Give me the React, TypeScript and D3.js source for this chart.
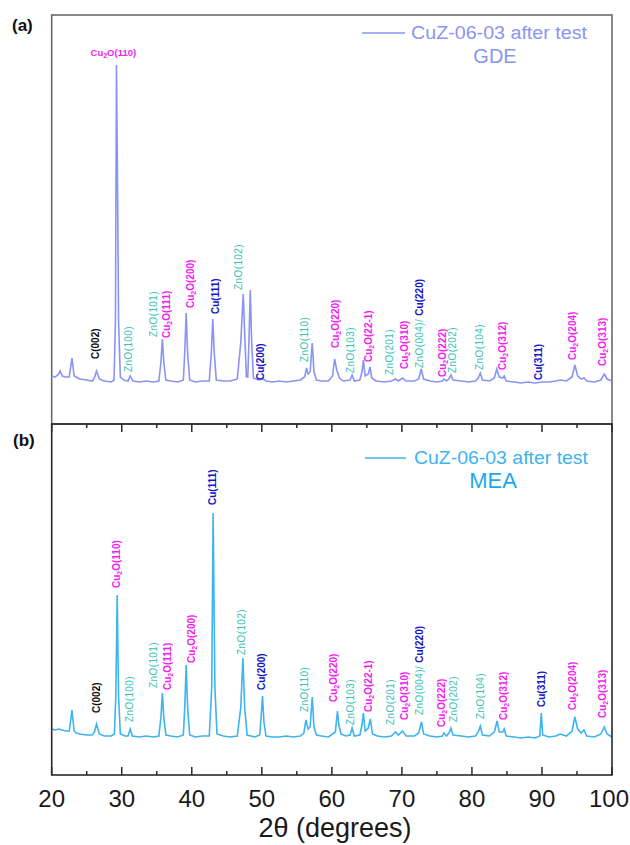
import * as d3 from 'd3';
import React from 'react';

// XRD patterns: [2theta, intensity a.u. above baseline]
const gdePattern: [number, number][] = [
	[20.0, 6], [20.5, 5], [21.0, 8], [21.2, 11], [21.5, 6], [22.0, 5], [22.5, 5], [22.9, 24], [23.2, 6],
	[23.5, 5], [24.0, 3], [25.0, 2], [25.8, 1], [26.1, 4], [26.4, 11], [26.8, 3], [27.5, 1], [28.5, 0],
	[28.9, 2], [29.1, 60], [29.25, 317], [29.4, 200], [29.55, 60], [29.8, 5], [30.3, 2], [30.9, 1],
	[31.2, 6], [31.6, 1], [32.5, 0], [33.5, 1], [34.5, 0], [35.3, 1], [35.6, 20], [35.8, 43], [36.0, 20],
	[36.3, 2], [37.0, 1], [38.0, 0], [38.8, 2], [39.0, 30], [39.2, 69], [39.4, 30], [39.7, 2], [40.5, 0],
	[41.5, 1], [42.5, 1], [42.8, 30], [43.0, 63], [43.2, 30], [43.5, 2], [44.5, 1], [45.5, 1], [46.5, 3],
	[47.0, 40], [47.35, 88], [47.6, 40], [47.8, 5], [48.0, 5], [48.2, 50], [48.35, 92], [48.55, 40],
	[48.8, 4], [49.5, 2], [50.2, 3], [50.6, 1], [51.5, 0], [52.5, 1], [53.5, 0], [54.5, 1], [55.5, 2],
	[56.1, 5], [56.4, 14], [56.6, 8], [56.9, 10], [57.2, 39], [57.45, 10], [57.8, 2], [58.5, 1], [59.5, 1],
	[60.1, 6], [60.4, 23], [60.7, 12], [61.1, 4], [61.6, 1], [62.6, 2], [62.9, 7], [63.2, 1], [64.0, 2],
	[64.3, 10], [64.5, 22], [64.75, 6], [65.2, 8], [65.45, 15], [65.7, 4], [66.3, 1], [67.5, 0], [68.5, 1],
	[69.1, 3], [69.5, 1], [70.1, 4], [70.6, 1], [71.8, 1], [72.4, 3], [72.75, 13], [73.1, 3], [74.0, 1],
	[75.0, 0], [75.8, 1], [76.0, 3], [76.4, 1], [76.8, 4], [77.0, 7], [77.3, 2], [78.5, 1], [79.5, 0],
	[80.5, 1], [80.9, 4], [81.2, 9], [81.5, 2], [82.5, 1], [83.2, 4], [83.55, 13], [83.9, 5], [84.4, 4],
	[84.6, 6], [84.9, 1], [86.0, 0], [87.0, -1], [88.0, 0], [89.0, -1], [90.0, 0], [91.0, 0], [92.0, 1],
	[92.6, 2], [93.5, 1], [94.3, 5], [94.7, 17], [95.1, 6], [95.6, 3], [96.0, 4], [96.4, 1], [97.5, 0],
	[98.4, 2], [98.9, 8], [99.3, 3], [100.0, 1]
];

const meaPattern: [number, number][] = [
	[20.0, 8], [20.5, 7], [21.0, 8], [21.5, 7], [22.0, 6], [22.5, 6], [22.9, 27], [23.2, 6], [23.5, 4],
	[24.0, 3], [25.0, 2], [25.8, 2], [26.1, 5], [26.4, 13], [26.8, 3], [27.5, 1], [28.5, 1], [28.95, 3],
	[29.15, 40], [29.35, 142], [29.55, 40], [29.8, 3], [30.5, 1], [30.9, 1], [31.2, 8], [31.5, 1],
	[32.5, 0], [33.5, 1], [34.5, 0], [35.3, 1], [35.6, 20], [35.8, 44], [36.0, 20], [36.3, 2], [37.0, 1],
	[38.0, 0], [38.8, 2], [39.0, 30], [39.2, 72], [39.4, 30], [39.7, 2], [40.5, 0], [41.5, 1], [42.5, 1],
	[42.85, 50], [43.05, 224], [43.3, 50], [43.6, 3], [44.5, 1], [45.5, 0], [46.5, 1], [47.0, 30],
	[47.3, 79], [47.55, 30], [47.9, 2], [49.0, 0], [49.7, 2], [49.9, 20], [50.1, 41], [50.3, 15],
	[50.6, 1], [51.5, 0], [52.5, 0], [53.5, 1], [54.5, 0], [55.5, 1], [56.0, 4], [56.3, 17], [56.6, 8],
	[56.9, 10], [57.2, 40], [57.45, 10], [57.8, 2], [58.5, 1], [59.5, 0], [60.5, 5], [60.8, 26], [61.0, 12],
	[61.3, 3], [62.0, 1], [62.6, 2], [62.9, 9], [63.2, 1], [64.0, 2], [64.3, 12], [64.5, 24], [64.75, 6],
	[65.2, 9], [65.5, 18], [65.8, 3], [66.5, 1], [67.5, 0], [68.5, 1], [69.1, 5], [69.5, 2], [70.1, 6],
	[70.6, 1], [71.8, 1], [72.4, 4], [72.8, 15], [73.1, 3], [74.0, 1], [75.0, 0], [75.8, 1], [76.0, 4],
	[76.4, 1], [76.8, 5], [77.0, 9], [77.3, 2], [78.5, 1], [79.5, 0], [80.5, 1], [80.9, 5], [81.2, 11],
	[81.5, 2], [82.5, 1], [83.2, 5], [83.6, 16], [83.9, 5], [84.4, 5], [84.6, 8], [84.9, 1], [86.0, 0],
	[87.0, -1], [88.0, 0], [89.0, -1], [89.7, 1], [89.9, 24], [90.1, 2], [91.0, 0], [92.0, 1], [92.6, 3],
	[93.5, 1], [94.3, 6], [94.7, 20], [95.1, 8], [95.6, 4], [96.0, 7], [96.4, 1], [97.5, 0], [98.4, 3],
	[98.9, 10], [99.3, 3], [100.0, 0]
];

// peak labels: [text, 2theta, intensity where the label starts]
const gdeLabels: [string, number, number][] = [
	['C(002)', 26.3, 23], ['ZnO(100)', 31.0, 10], ['ZnO(101)', 34.5, 45], ['Cu2O(111)', 36.45, 44],
	['Cu2O(200)', 39.8, 74], ['Cu(111)', 43.4, 68], ['ZnO(102)', 46.7, 92], ['Cu(200)', 49.8, 2],
	['ZnO(110)', 56.1, 20], ['Cu2O(220)', 60.55, 34], ['ZnO(103)', 62.7, 9], ['Cu2O(22-1)', 65.3, 20],
	['ZnO(201)', 68.3, 7], ['Cu2O(310)', 70.4, 13], ['ZnO(004)/ Cu(220)', 72.5, 14], ['Cu2O(222)', 75.8, 5],
	['ZnO(202)', 77.2, 9], ['ZnO(104)', 81.1, 12], ['Cu2O(312)', 84.4, 12], ['Cu(311)', 89.5, 2],
	['Cu2O(204)', 94.4, 22], ['Cu2O(313)', 98.65, 16]
];

const meaLabels: [string, number, number][] = [
	['C(002)', 26.4, 24], ['Cu2O(110)', 29.25, 149], ['ZnO(100)', 31.1, 15], ['ZnO(101)', 34.5, 49],
	['Cu2O(111)', 36.5, 47], ['Cu2O(200)', 40.0, 74], ['Cu(111)', 43.0, 232], ['ZnO(102)', 47.1, 82],
	['Cu(200)', 50.0, 47], ['ZnO(110)', 56.1, 25], ['Cu2O(220)', 60.3, 35], ['ZnO(103)', 62.7, 12],
	['Cu2O(22-1)', 65.3, 25], ['ZnO(201)', 68.4, 12], ['Cu2O(310)', 70.4, 17], ['ZnO(004)/ Cu(220)', 72.5, 22],
	['Cu2O(222)', 75.7, 10], ['ZnO(202)', 77.4, 15], ['ZnO(104)', 81.2, 18], ['Cu2O(312)', 84.5, 17],
	['Cu(311)', 89.9, 30], ['Cu2O(204)', 94.4, 27], ['Cu2O(313)', 98.65, 19]
];

const xTicks = [20, 30, 40, 50, 60, 70, 80, 90, 100];
const xMinorTicks = [25, 35, 45, 55, 65, 75, 85, 95];

const W = 630;
const H = 845;
const left = 51.7;
const right = 612;
const aTop = 15;
const mid = 424;
const bBottom = 775;

const SANS = '"Liberation Sans", Arial, sans-serif';

function phaseColor(t: string) {
	if (t.startsWith('Cu2O')) return '#f51cf0';
	if (t.startsWith('ZnO')) return '#35c3b4';
	if (t.startsWith('Cu(')) return '#1414c8';
	return '#111';
}

function LabelText({ text }: { text: string }) {
	// Cu2O gets a subscript 2
	if (text.startsWith('Cu2O')) {
		return (
			<>
				<tspan>Cu</tspan>
				<tspan fontSize={7} dy={2}>2</tspan>
				<tspan dy={-2}>{text.slice(3)}</tspan>
			</>
		);
	}
	return <tspan>{text}</tspan>;
}

function PeakLabel({ t, x, y }: { t: string; x: number; y: number }) {
	const parts = t.split('/ ');
	return (
		<text
			transform={`translate(${x},${y}) rotate(-90)`}
			dy="0.35em"
			fontFamily={SANS}
			fontSize={10}
			textAnchor="start"
		>
			{parts.map((p, i) => (
				<tspan key={i} fill={phaseColor(p)} fontWeight={p.startsWith('ZnO') ? 'normal' : 'bold'} letterSpacing={p.startsWith('ZnO') ? 0.4 : 0}>
					<LabelText text={p} />
					{i < parts.length - 1 ? '/ ' : ''}
				</tspan>
			))}
		</text>
	);
}

export default function App() {
	const x = d3.scaleLinear().domain([20, 100]).range([left, right]);
	const yA = d3.scaleLinear().domain([-42, 367]).range([mid, aTop]);
	const yB = d3.scaleLinear().domain([-38, 313]).range([bBottom, mid]);

	const lineA = d3.line<[number, number]>().x(d => x(d[0])).y(d => yA(d[1]));
	const lineB = d3.line<[number, number]>().x(d => x(d[0])).y(d => yB(d[1]));

	return (
		<svg width={W} height={H} style={{ position: 'absolute', left: 0, top: 0, background: '#fff' }}>
			{/* panel (a) */}
			<rect x={left} y={aTop} width={right - left} height={mid - aTop} fill="none" stroke="#6a6a6a" strokeWidth={1.6} />
			<path d={lineA(gdePattern) || ''} fill="none" stroke="#8a94f2" strokeWidth={1.6} />
			{gdeLabels.map(([t, th, v], i) => (
				<PeakLabel key={i} t={t} x={x(th)} y={yA(v)} />
			))}
			<text x={x(28.8)} y={yA(326)} textAnchor="middle" fontFamily={SANS} fontSize={9.5} fontWeight="bold" fill={phaseColor('Cu2O')}>
				<LabelText text="Cu2O(110)" />
			</text>
			<text x={12} y={31} fontFamily={SANS} fontSize={17} fontWeight="bold" fill="#111">(a)</text>
			<line x1={362} x2={405} y1={33} y2={33} stroke="#8a94f2" strokeWidth={1.5} />
			<text x={411} y={39} fontFamily={SANS} fontSize={18} fill="#8a94f2" textLength={176} lengthAdjust="spacingAndGlyphs">CuZ-06-03 after test</text>
			<text x={495} y={63} textAnchor="middle" fontFamily={SANS} fontSize={20} fill="#8a94f2">GDE</text>

			{/* panel (b) */}
			<path d={lineB(meaPattern) || ''} fill="none" stroke="#3db3f0" strokeWidth={1.6} />
			{meaLabels.map(([t, th, v], i) => (
				<PeakLabel key={i} t={t} x={x(th)} y={yB(v)} />
			))}
			<rect x={left} y={mid} width={right - left} height={bBottom - mid} fill="none" stroke="#2a2a2a" strokeWidth={1.6} />
			{xTicks.map(t => (
				<g key={t}>
					<line x1={x(t)} x2={x(t)} y1={mid} y2={mid + 8} stroke="#2a2a2a" strokeWidth={1.5} />
					<line x1={x(t)} x2={x(t)} y1={bBottom} y2={bBottom - 8} stroke="#2a2a2a" strokeWidth={1.5} />
					<text x={t === 100 ? 629 : x(t)} y={807} textAnchor={t === 100 ? 'end' : 'middle'} fontFamily={SANS} fontSize={24} fill="#1a1a1a">{t}</text>
				</g>
			))}
			{xMinorTicks.map(t => (
				<g key={t}>
					<line x1={x(t)} x2={x(t)} y1={mid} y2={mid + 4} stroke="#2a2a2a" strokeWidth={1.5} />
					<line x1={x(t)} x2={x(t)} y1={bBottom} y2={bBottom - 4} stroke="#2a2a2a" strokeWidth={1.5} />
				</g>
			))}
			<text x={335} y={837} textAnchor="middle" fontFamily={SANS} fontSize={27} fill="#1a1a1a">2θ (degrees)</text>
			<text x={13} y={446} fontFamily={SANS} fontSize={17} fontWeight="bold" fill="#111">(b)</text>
			<line x1={365} x2={406} y1={458} y2={458} stroke="#3db3f0" strokeWidth={1.5} />
			<text x={414} y={464} fontFamily={SANS} fontSize={18} fill="#3db3f0" textLength={174} lengthAdjust="spacingAndGlyphs">CuZ-06-03 after test</text>
			<text x={493} y={488} textAnchor="middle" fontFamily={SANS} fontSize={22} fill="#1aa8ea">MEA</text>
		</svg>
	);
}
